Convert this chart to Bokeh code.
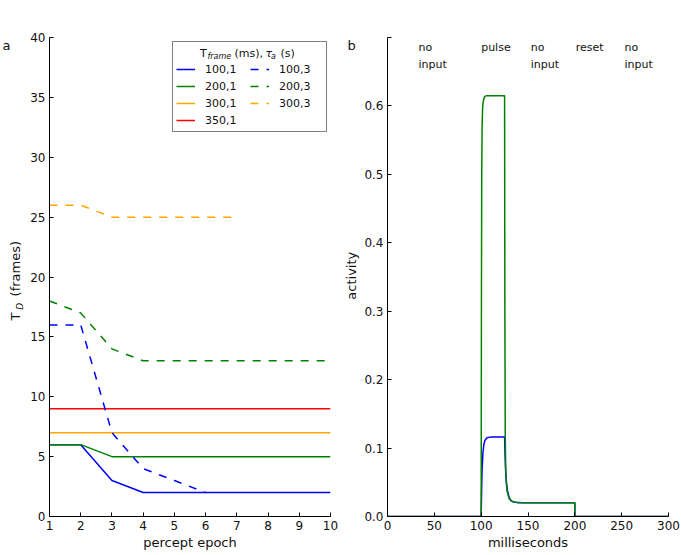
import math
from bokeh.plotting import figure
from bokeh.models import (Range1d, FixedTicker, Legend, LegendItem,
                          ColumnDataSource, PrintfTickFormatter)
from bokeh.layouts import row
from bokeh.embed import file_html
from bokeh.resources import INLINE
from bokeh.core.properties import value

# ---------------- data: panel a ----------------
epochs = [1, 2, 3, 4, 5, 6, 7, 8, 9, 10]
td_100_1 = [6, 6, 3, 2, 2, 2, 2, 2, 2, 2]
td_200_1 = [6, 6, 5, 5, 5, 5, 5, 5, 5, 5]
td_300_1 = [7, 7, 7, 7, 7, 7, 7, 7, 7, 7]
td_350_1 = [9, 9, 9, 9, 9, 9, 9, 9, 9, 9]
epochs_100_3 = [1, 2, 3, 4, 5, 6]
td_100_3 = [16, 16, 7, 4, 3, 2]
td_200_3 = [18, 17, 14, 13, 13, 13, 13, 13, 13, 13]
epochs_300_3 = [1, 2, 3, 4, 5, 6, 7]
td_300_3 = [26, 26, 25, 25, 25, 25, 25]
series_labels = ["100,1", "200,1", "300,1", "350,1", "100,3", "200,3", "300,3"]
xticks_a = [1, 2, 3, 4, 5, 6, 7, 8, 9, 10]
yticks_a = [0, 5, 10, 15, 20, 25, 30, 35, 40]

# ---------------- data: panel b ----------------
t_blue = [0, 100, 100.5, 101, 102, 103, 104, 106, 110, 125, 125.5, 126, 127, 128,
          130, 132, 135, 140, 200, 200, 300]
act_blue = [0, 0, 0.04, 0.07, 0.095, 0.106, 0.111, 0.115, 0.116, 0.116, 0.09, 0.07,
            0.05, 0.038, 0.027, 0.023, 0.021, 0.02, 0.02, 0, 0]
t_green = [0, 100, 100.3, 100.6, 101, 101.5, 102, 103, 104, 106, 125, 125.3, 125.7,
           126.2, 127, 128, 130, 133, 137, 145, 200, 200, 300]
act_green = [0, 0, 0.33, 0.5, 0.57, 0.595, 0.605, 0.611, 0.614, 0.615, 0.615, 0.3,
             0.12, 0.07, 0.045, 0.035, 0.026, 0.022, 0.021, 0.02, 0.02, 0, 0]
phase_x = [33, 100, 153, 201, 253]
phase_labels = ["no\ninput", "pulse", "no\ninput", "reset", "no\ninput"]
xticks_b = [0, 50, 100, 150, 200, 250, 300]
yticks_b = [0.0, 0.1, 0.2, 0.3, 0.4, 0.5, 0.6]

BLUE = "#0000ff"
GREEN = "#008000"
ORANGE = "#ffa500"
RED = "#ff0000"
FONT = "DejaVu Sans"
TXT = "#111111"
DASH = "8 8"
LW = 1.5
H = 555


def style(p):
    p.outline_line_color = None
    p.xgrid.visible = False
    p.ygrid.visible = False
    for ax in p.axis:
        ax.major_tick_in = 4
        ax.major_tick_out = 0
        ax.minor_tick_in = 0
        ax.minor_tick_out = 0
        ax.axis_line_color = "black"
        ax.axis_line_width = 1
        ax.major_tick_line_color = "black"
        ax.major_label_text_font = FONT
        ax.major_label_text_font_size = "12px"
        ax.major_label_text_color = TXT
        ax.axis_label_text_font = FONT
        ax.axis_label_text_font_size = "13px"
        ax.axis_label_text_font_style = "normal"
        ax.axis_label_text_color = TXT
        ax.major_label_standoff = 4
        ax.axis_label_standoff = 2


def helper(w):
    f = figure(width=w, height=H, x_range=Range1d(0, w), y_range=Range1d(0, H),
               x_axis_type=None, y_axis_type=None, output_backend="svg",
               toolbar_location=None, min_border=0)
    f.outline_line_color = None
    f.grid.visible = False
    return f


def put(f, items):
    # items: (x_px, y_px_from_top, text, size, style, angle, align)
    src = ColumnDataSource(dict(
        x=[i[0] for i in items], y=[H - i[1] for i in items],
        text=[i[2] for i in items], size=[i[3] for i in items],
        style=[i[4] for i in items], angle=[i[5] for i in items],
        align=[i[6] for i in items]))
    f.text(x="x", y="y", text="text", source=src, text_font=value(FONT),
           text_font_size="size", text_font_style="style", angle="angle",
           text_align="align", text_baseline="middle", text_color=TXT)


# ---------------- left strip: panel letter + y label of panel a ----------------
h1 = helper(26)
put(h1, [
    (2, 9, "a", "13px", "normal", 0, "left"),
    (15, 328, "T", "13px", "normal", math.pi / 2, "left"),
    (19.5, 315.5, "D", "9px", "italic", math.pi / 2, "left"),
    (15, 300, "(frames)", "13px", "normal", math.pi / 2, "left"),
])

# ---------------- panel a ----------------
pa = figure(width=314, height=H, x_range=Range1d(1, 10), y_range=Range1d(0, 40),
            output_backend="svg", toolbar_location=None,
            min_border_left=23, min_border_right=10, min_border_top=37, min_border_bottom=39)
style(pa)
pa.xaxis.ticker = FixedTicker(ticks=xticks_a)
pa.yaxis.ticker = FixedTicker(ticks=yticks_a)
pa.xaxis.axis_label = "percept epoch"


def xa(px):
    return 1 + (px - 49) / 31.22


def ya(py):
    return (516 - py) / 11.975


# legend title  T_frame (ms), tau_a (s)  (pixel positions)
title_parts = [(199.5, 53, "T", "11px", "normal"),
               (207, 56, "frame", "8px", "italic"),
               (234, 53, "(ms),", "11px", "normal"),
               (265, 53, "τ", "11px", "italic"),
               (270.5, 56, "a", "8px", "italic"),
               (280, 53, "(s)", "11px", "normal")]
tsrc = ColumnDataSource(dict(x=[xa(t[0]) for t in title_parts], y=[ya(t[1]) for t in title_parts],
                             text=[t[2] for t in title_parts], size=[t[3] for t in title_parts],
                             style=[t[4] for t in title_parts]))
pa.text(x="x", y="y", text="text", source=tsrc, text_font=value(FONT),
        text_font_size="size", text_font_style="style", text_align="left",
        text_baseline="middle", text_color=TXT)

r1 = pa.line(epochs, td_100_1, line_color=BLUE, line_width=LW)
r2 = pa.line(epochs, td_200_1, line_color=GREEN, line_width=LW)
r3 = pa.line(epochs, td_300_1, line_color=ORANGE, line_width=LW)
r4 = pa.line(epochs, td_350_1, line_color=RED, line_width=LW)
r5 = pa.line(epochs_100_3, td_100_3, line_color=BLUE, line_width=LW, line_dash=DASH)
r6 = pa.line(epochs, td_200_3, line_color=GREEN, line_width=LW, line_dash=DASH)
r7 = pa.line(epochs_300_3, td_300_3, line_color=ORANGE, line_width=LW, line_dash=DASH)
renderers = [r1, r2, r3, r4, r5, r6, r7]

legend = Legend(items=[LegendItem(label=lab, renderers=[r]) for lab, r in zip(series_labels, renderers)],
                location=(123, 384), nrows=4, title=" ",
                title_text_font=FONT, title_text_font_size="11px", title_standoff=3,
                label_text_font=FONT, label_text_font_size="11px",
                label_text_color=TXT,
                glyph_width=19, glyph_height=16, label_height=16, label_width=44,
                label_standoff=10, spacing=1, padding=3, margin=0,
                border_line_color="black", border_line_width=1,
                background_fill_alpha=0)
pa.add_layout(legend)

# ---------------- middle strip: panel letter + y label of panel b ----------------
h2 = helper(20)
put(h2, [
    (7, 9, "b", "13px", "normal", 0, "left"),
    (11, 276, "activity", "13px", "normal", math.pi / 2, "center"),
])

# ---------------- panel b ----------------
pb = figure(width=321, height=H, x_range=Range1d(0, 300), y_range=Range1d(0, 0.7),
            output_backend="svg", toolbar_location=None,
            min_border_left=27, min_border_right=13, min_border_top=37, min_border_bottom=39)
style(pb)
pb.xaxis.ticker = FixedTicker(ticks=xticks_b)
pb.yaxis.ticker = FixedTicker(ticks=yticks_b, minor_ticks=[0.7])
pb.yaxis.minor_tick_in = 4
pb.yaxis.minor_tick_line_color = "black"
pb.yaxis.formatter = PrintfTickFormatter(format="%.1f")
pb.xaxis.axis_label = "milliseconds"

pb.line(t_blue, act_blue, line_color=BLUE, line_width=LW)
pb.line(t_green, act_green, line_color=GREEN, line_width=LW)

src = ColumnDataSource(dict(x=phase_x, y=[0.695] * len(phase_x), text=phase_labels))
pb.text(x="x", y="y", text="text", source=src, text_font=value(FONT),
        text_font_size="11px", text_baseline="top", text_align="left",
        text_line_height=1.3, text_color=TXT)

layout = row(h1, pa, h2, pb)
open("out.html", "w").write(file_html(layout, INLINE))
